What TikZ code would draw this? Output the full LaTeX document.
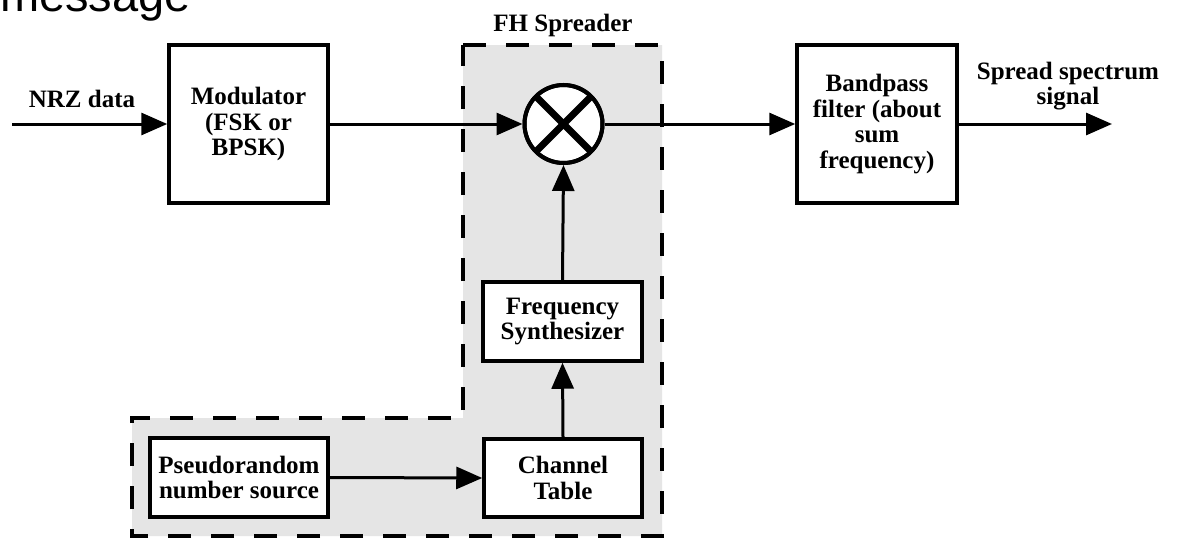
\documentclass[tikz,border=0pt]{standalone}
\usepackage{fontspec}
\setmainfont{Liberation Serif}
\newfontfamily\msgsans{Liberation Sans}
\usetikzlibrary{arrows.meta}
\tikzset{
  blk/.style={draw, line width=3.5pt, fill=white, align=center, inner sep=2pt,
              font=\bfseries\fontsize{25}{25.5}\selectfont},
  lbl/.style={align=center, inner sep=0pt, font=\bfseries\fontsize{25}{25.5}\selectfont},
  conn/.style={line width=3pt, -{Triangle[length=26pt,width=22pt]}},
  spreader/.style={draw, line width=4pt, dash pattern=on 23pt off 20pt, fill=gray!20}
}
\begin{document}
\begin{tikzpicture}[x=1pt,y=-1pt]
\useasboundingbox (0,0) rectangle (1178,538);
\clip (0,0) rectangle (1178,538);
\fill[white] (0,0) rectangle (1178,538);
% title fragment
\node[anchor=base west, inner sep=0pt, font=\msgsans\fontsize{47}{47}\selectfont] (msg) at (0,12) {message};
% FH spreader region
\draw[spreader] (463,45) -- (662,45) -- (662,536) -- (132,536) -- (132,418) -- (463,418) -- cycle;
\node[lbl] (fhlbl) at (563,25) {FH Spreader};
% blocks
\node[blk, minimum width=159pt, minimum height=158pt] (mod) at (248.5,124) {Modulator\\(FSK or\\BPSK)};
\node[blk, minimum width=160pt, minimum height=158pt] (bpf) at (877,124) {Bandpass\\filter (about\\sum\\frequency)};
\node[blk, minimum width=159pt, minimum height=79pt] (fs) at (562.5,321.5) {Frequency\\Synthesizer};
\node[blk, minimum width=158pt, minimum height=78pt] (ct) at (563,478) {Channel\\Table};
\node[blk, minimum width=178pt, minimum height=79pt] (pr) at (239,477.5) {Pseudorandom\\number source};
% mixer
\node[draw, circle, line width=4pt, fill=white, minimum size=78pt, inner sep=0pt] (mix) at (563.5,124) {};
\draw[line width=7pt] (mix.center) ++(-27,-27) -- ++(54,54);
\draw[line width=7pt] (mix.center) ++(27,-27) -- ++(-54,54);
\draw[line width=4pt] (mix) circle (39pt);
% labels
\node[lbl] (nrz) at (82,99) {NRZ data};
\node[lbl] (sss) at (1068,86) {Spread spectrum\\signal};
% connectors
\coordinate (in) at (12,124);
\coordinate (out) at (1112,124);
\draw[conn] (in) -- (mod.west);
\draw[conn] (mod.east) -- (mix.west);
\draw[conn] (mix.east) -- (bpf.west);
\draw[conn] (bpf.east) -- (out);
\draw[conn] (fs.north) -- (mix.south);
\draw[conn] (ct.north) -- (fs.south);
\draw[conn] (pr.east) -- (ct.west);
\end{tikzpicture}
\end{document}
